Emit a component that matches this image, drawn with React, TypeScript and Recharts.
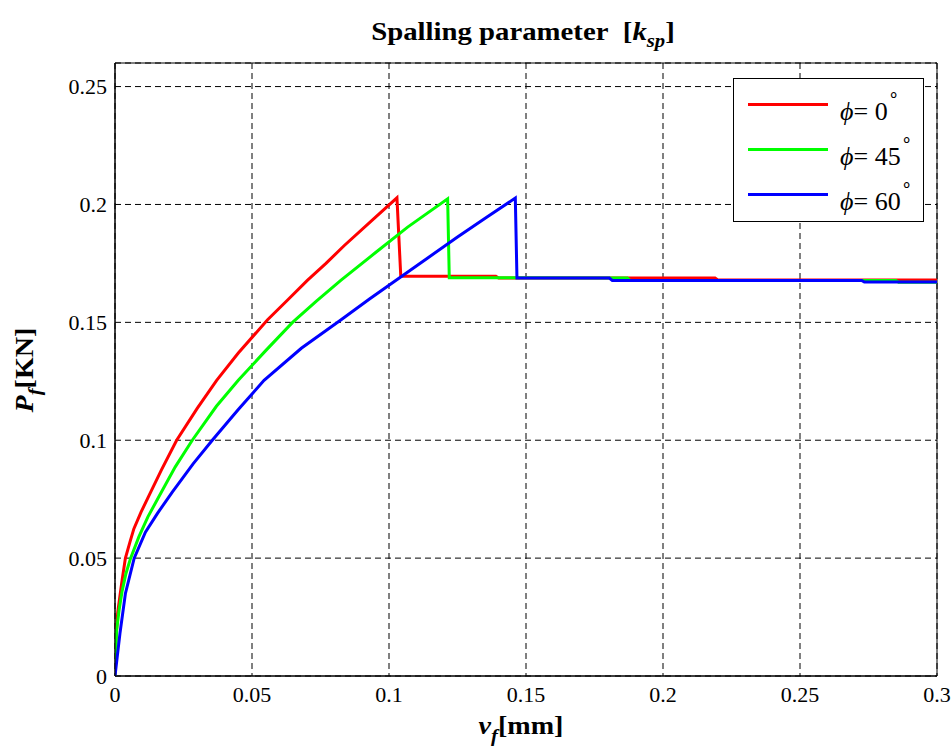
import React from 'react';
import {
  LineChart,
  Line,
  XAxis,
  YAxis,
  CartesianGrid,
  Legend,
  ReferenceArea,
} from 'recharts';

// red: phi = 0
const redV = [0, 0.0003, 0.001, 0.0018, 0.0026, 0.0038, 0.0055, 0.0069, 0.0095, 0.0124, 0.017, 0.0225, 0.03, 0.0371, 0.045, 0.0556, 0.063, 0.0702, 0.077, 0.0836, 0.095, 0.1029, 0.1043, 0.139, 0.14, 0.219, 0.22, 0.3];
const redP = [0, 0.015, 0.027, 0.034, 0.0407, 0.05, 0.057, 0.0625, 0.0695, 0.0765, 0.0875, 0.1, 0.1135, 0.1254, 0.137, 0.151, 0.1595, 0.1678, 0.175, 0.1825, 0.1945, 0.2028, 0.1695, 0.1695, 0.1688, 0.1688, 0.168, 0.168];

// green: phi = 45
const greenV = [0, 0.0006, 0.0015, 0.0026, 0.004, 0.0057, 0.0087, 0.012, 0.016, 0.022, 0.0282, 0.037, 0.045, 0.055, 0.0648, 0.0735, 0.0824, 0.095, 0.1068, 0.1214, 0.122, 0.187, 0.188, 0.285, 0.286, 0.3];
const greenP = [0, 0.0195, 0.028, 0.036, 0.0435, 0.05, 0.059, 0.0675, 0.076, 0.0887, 0.1, 0.1144, 0.1254, 0.138, 0.15, 0.159, 0.1678, 0.1795, 0.1904, 0.2024, 0.1689, 0.1688, 0.1678, 0.1678, 0.167, 0.167];

// blue: phi = 60
const blueV = [0, 0.0008, 0.0018, 0.0038, 0.007, 0.0111, 0.0155, 0.0209, 0.0285, 0.0355, 0.045, 0.0544, 0.068, 0.0824, 0.093, 0.1031, 0.114, 0.125, 0.1355, 0.1461, 0.1467, 0.1804, 0.1815, 0.2725, 0.2735, 0.3];
const blueP = [0, 0.008, 0.018, 0.035, 0.05, 0.061, 0.069, 0.078, 0.09, 0.1, 0.113, 0.1254, 0.139, 0.151, 0.16, 0.1683, 0.1772, 0.1862, 0.1945, 0.2027, 0.1688, 0.1688, 0.1678, 0.1678, 0.1671, 0.1671];

const xTicks = [0, 0.05, 0.1, 0.15, 0.2, 0.25, 0.3];
const yTicks = [0, 0.05, 0.1, 0.15, 0.2, 0.25];
const legendAngles = ['0', '45', '60'];
const colors = ['#ff0000', '#00ff00', '#0000ff'];

const toRows = (v: number[], p: number[]) => v.map((x, i) => ({ v: x, p: p[i] }));

const seriesList = [
  { key: 'phi0', data: toRows(redV, redP) },
  { key: 'phi45', data: toRows(greenV, greenP) },
  { key: 'phi60', data: toRows(blueV, blueP) },
];

const serif = 'Liberation Serif, serif';

const LegendBox = () => (
  <div
    style={{
      position: 'relative',
      width: 191,
      height: 144,
      boxSizing: 'border-box',
      border: '1px solid #000',
      background: '#fff',
      fontFamily: serif,
      fontSize: 26,
      color: '#000',
    }}
  >
    {legendAngles.map((a, i) => (
      <React.Fragment key={a}>
        <div
          style={{
            position: 'absolute',
            left: 14,
            top: 24 + i * 45,
            width: 80,
            height: 3,
            background: colors[i],
          }}
        />
        <div
          style={{
            position: 'absolute',
            left: 106,
            top: 20 + i * 45,
            lineHeight: '26px',
            whiteSpace: 'nowrap',
          }}
        >
          <i>ϕ</i>= {a}
          <span style={{ position: 'relative', top: -20, fontSize: 18 }}>∘</span>
        </div>
      </React.Fragment>
    ))}
  </div>
);

const App: React.FC = () => {
  return (
    <div style={{ position: 'absolute', left: 0, top: 0, width: 951, height: 753, background: '#fff' }}>
      <LineChart
        width={951}
        height={753}
        margin={{ top: 63, right: 14, bottom: 17, left: 0 }}
      >
        <CartesianGrid stroke="#000" strokeDasharray="6 4" />
        <XAxis
          dataKey="v"
          type="number"
          domain={[0, 0.3]}
          ticks={xTicks}
          allowDataOverflow
          height={60}
          tickLine={false}
          tickSize={0}
          tickMargin={10}
          axisLine={{ stroke: '#000' }}
          tick={{ fill: '#000', fontFamily: serif, fontSize: 22 }}
        />
        <YAxis
          type="number"
          domain={[0, 0.26]}
          ticks={yTicks}
          allowDataOverflow
          width={115}
          tickLine={false}
          tickSize={0}
          tickMargin={8}
          axisLine={{ stroke: '#000' }}
          tick={{ fill: '#000', fontFamily: serif, fontSize: 22 }}
        />
        <ReferenceArea x1={0} x2={0.3} y1={0} y2={0.26} fill="none" stroke="#000" strokeWidth={1} />
        {seriesList.map((s, i) => (
          <Line
            key={s.key}
            data={s.data}
            dataKey="p"
            type="linear"
            stroke={colors[i]}
            strokeWidth={3}
            dot={false}
            activeDot={false}
            isAnimationActive={false}
          />
        ))}
        <Legend
          layout="vertical"
          align="center"
          verticalAlign="middle"
          content={() => <LegendBox />}
          wrapperStyle={{ position: 'absolute', left: 733, top: 78, width: 191, height: 144 }}
        />
      </LineChart>

      {/* title */}
      <div
        style={{
          position: 'absolute',
          left: 523,
          top: 19,
          transform: 'translateX(-50%) scaleX(1.15)',
          whiteSpace: 'nowrap',
          fontFamily: serif,
          fontWeight: 'bold',
          fontSize: 25,
          lineHeight: '25px',
          color: '#000',
        }}
      >
        Spalling parameter&nbsp;&nbsp;[<i>k</i>
        <span style={{ position: 'relative', top: 7, fontSize: 18 }}><i>sp</i></span>]
      </div>

      {/* x label */}
      <div
        style={{
          position: 'absolute',
          left: 521,
          top: 713,
          transform: 'translateX(-50%) scaleX(1.08)',
          whiteSpace: 'nowrap',
          fontFamily: serif,
          fontWeight: 'bold',
          fontSize: 26,
          lineHeight: '26px',
          color: '#000',
        }}
      >
        <i>v</i>
        <span style={{ position: 'relative', top: 8, fontSize: 19 }}><i>f</i></span>[mm]
      </div>

      {/* y label */}
      <div
        style={{
          position: 'absolute',
          left: 26,
          top: 370,
          transform: 'translate(-50%, -50%) rotate(-90deg) scaleX(1.08)',
          whiteSpace: 'nowrap',
          fontFamily: serif,
          fontWeight: 'bold',
          fontSize: 26,
          lineHeight: '26px',
          color: '#000',
        }}
      >
        <i>P</i>
        <span style={{ position: 'relative', top: 8, fontSize: 19 }}><i>f</i></span>[KN]
      </div>
    </div>
  );
};

export default App;
